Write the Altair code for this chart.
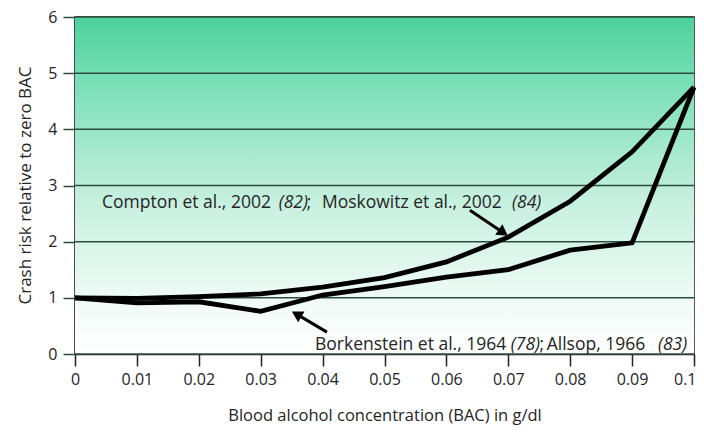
import altair as alt
import pandas as pd

# ---- data ----
bac = [0.0, 0.01, 0.02, 0.03, 0.04, 0.05, 0.06, 0.07, 0.08, 0.09, 0.1]
compton = [1.0, 0.99, 1.02, 1.07, 1.19, 1.36, 1.64, 2.08, 2.72, 3.6, 4.75]
borken = [1.0, 0.91, 0.93, 0.76, 1.05, 1.2, 1.37, 1.5, 1.85, 1.98, 4.75]
series_names = ["Compton/Moskowitz", "Borkenstein/Allsop"]

x_ticks = [0.0, 0.01, 0.02, 0.03, 0.04, 0.05, 0.06, 0.07, 0.08, 0.09, 0.1]
y_ticks = [0, 1, 2, 3, 4, 5, 6]

# annotation pieces (text, x, y at baseline, italic)
ann_text = ["Compton et al., 2002", "(82)", ";", "Moskowitz et al., 2002", "(84)",
            "Borkenstein et al., 1964", "(78)", ";", "Allsop, 1966", "(83)"]
ann_x = [0.00436, 0.03290, 0.03745, 0.03990, 0.07060,
         0.03877, 0.07040, 0.07505, 0.07620, 0.09418]
ann_y = [2.608, 2.608, 2.608, 2.608, 2.608,
         0.071, 0.071, 0.071, 0.071, 0.071]
ann_italic = [False, True, False, False, True,
              False, True, False, False, True]

# arrows (start -> tip)
arr_x = [0.0638, 0.0407]
arr_y = [2.56, 0.39]
arr_x2 = [0.0692, 0.0358]
arr_y2 = [2.16, 0.71]
arr_angle = [124, 300]

# ---- tables ----
lines_df = pd.DataFrame({
    "bac": bac * 2,
    "risk": compton + borken,
    "series": [series_names[0]] * len(bac) + [series_names[1]] * len(bac),
})
ann_df = pd.DataFrame({"text": ann_text, "x": ann_x, "y": ann_y, "italic": ann_italic})
arr_df = pd.DataFrame({"x": arr_x, "y": arr_y, "x2": arr_x2, "y2": arr_y2, "angle": arr_angle})
grid_df = pd.DataFrame({"y": y_ticks})
bg_df = pd.DataFrame({"x": [x_ticks[0]], "x2": [x_ticks[-1]], "y": [y_ticks[0]], "y2": [y_ticks[-1]]})

FONT = "Open Sans"
TXT = "#242424"
GRID = "#2d4c3e"

xscale = alt.Scale(domain=[0, 0.1], nice=False, zero=False)
yscale = alt.Scale(domain=[0, 6], nice=False)

xaxis = alt.Axis(
    values=x_ticks, format=".2~f", grid=False, tickSize=12, tickColor="#222",
    tickWidth=1.5, domainColor="#222", domainWidth=1.5, labelFontSize=16,
    labelColor=TXT, labelFont=FONT, labelPadding=5, labelFlush=False,
    labelAlign={"expr": "datum.value > 0.099 ? 'right' : 'center'"},
    labelOffset={"expr": "datum.value > 0.099 ? 2 : 0"},
    title="Blood alcohol concentration (BAC) in g/dl", titleFont=FONT,
    titleFontSize=16.5, titleFontWeight="normal", titleColor=TXT,
    titleY=61, titleBaseline="middle",
)
yaxis = alt.Axis(
    values=y_ticks, format="d", grid=False,
    tickSize=12, tickColor=GRID, tickWidth=1.5, domainColor="#222",
    domainWidth=1.5, labelFontSize=16, labelColor=TXT, labelFont=FONT,
    labelPadding=6, title="Crash risk relative to zero BAC", titleFont=FONT,
    titleFontSize=17, titleFontWeight="normal", titleColor=TXT,
    titleX=-50, titleY=168, titleAngle=270, titleAlign="center",
    titleBaseline="middle",
)

bg = alt.Chart(bg_df).mark_rect(
    color=alt.LinearGradient(
        gradient="linear", x1=0, x2=0, y1=0, y2=1,
        stops=[
            alt.GradientStop(offset=0, color="#4cd29b"),
            alt.GradientStop(offset=0.25, color="#86e2be"),
            alt.GradientStop(offset=0.55, color="#c7f0df"),
            alt.GradientStop(offset=0.85, color="#f1fbf7"),
            alt.GradientStop(offset=1, color="#ffffff"),
        ],
    )
).encode(
    x=alt.X("x:Q", scale=xscale, axis=xaxis),
    x2="x2:Q",
    y=alt.Y("y:Q", scale=yscale, axis=yaxis),
    y2="y2:Q",
)

grid = alt.Chart(grid_df).mark_rule(color=GRID, strokeWidth=1.5).encode(
    y=alt.Y("y:Q", scale=yscale),
    x=alt.value(0), x2=alt.value(619),
)

lines = alt.Chart(lines_df).mark_line(strokeWidth=4.8, strokeJoin="miter", color="black").encode(
    x=alt.X("bac:Q", scale=xscale),
    y=alt.Y("risk:Q", scale=yscale),
    detail="series:N",
)

base_ann = alt.Chart(ann_df)
txt_norm = base_ann.transform_filter("!datum.italic").mark_text(
    align="left", baseline="alphabetic", font=FONT, fontSize=17.5, color=TXT
).encode(x=alt.X("x:Q", scale=xscale), y=alt.Y("y:Q", scale=yscale), text="text:N")
txt_ital = base_ann.transform_filter("datum.italic").mark_text(
    align="left", baseline="alphabetic", font=FONT, fontSize=17.5, color=TXT, fontStyle="italic"
).encode(x=alt.X("x:Q", scale=xscale), y=alt.Y("y:Q", scale=yscale), text="text:N")

arr_line = alt.Chart(arr_df).mark_rule(strokeWidth=3, color="black").encode(
    x=alt.X("x:Q", scale=xscale), y=alt.Y("y:Q", scale=yscale),
    x2="x2:Q", y2="y2:Q",
)
arr_head = alt.Chart(arr_df).mark_point(
    shape="triangle-up", filled=True, size=160, color="black", opacity=1
).encode(
    x=alt.X("x2:Q", scale=xscale), y=alt.Y("y2:Q", scale=yscale),
    angle=alt.Angle("angle:Q", scale=None),
)

chart = alt.layer(bg, grid, lines, txt_norm, txt_ital, arr_line, arr_head).properties(
    width=619, height=337,
    autosize=alt.AutoSizeParams(type="none"),
    padding={"left": 67, "top": 9, "right": 2, "bottom": 71},
    background="white",
).configure_view(stroke="#222", strokeWidth=1.5)

chart.save("out.html", embed_options={"renderer": "svg", "actions": False})
